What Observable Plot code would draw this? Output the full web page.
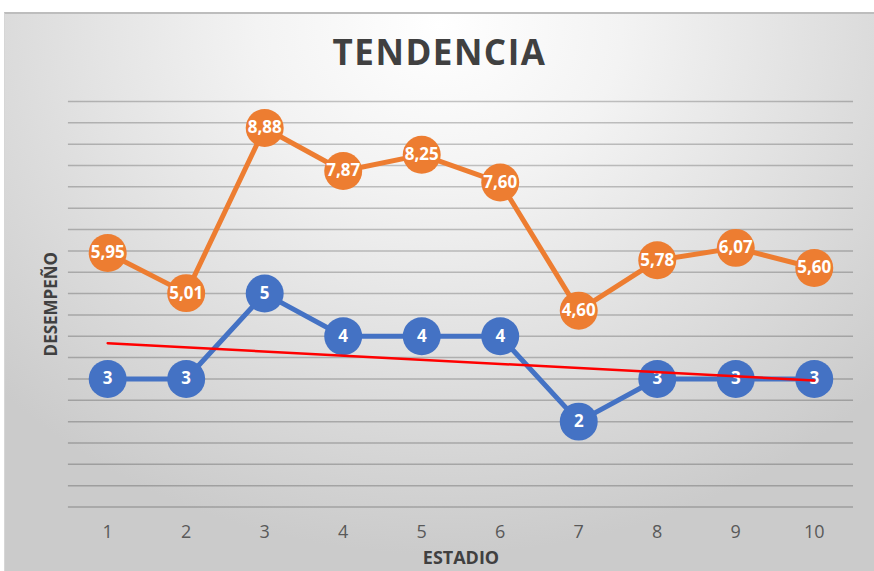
<!DOCTYPE html>
<html>
<head>
<meta charset="utf-8">
<script src="https://cdn.jsdelivr.net/npm/d3@7"></script>
<script src="https://cdn.jsdelivr.net/npm/@observablehq/plot@0.6"></script>
<style>
  html, body { margin: 0; padding: 0; background: #ffffff; }
  #chart {
    position: absolute; left: 4px; top: 12px; width: 870px; height: 559px;
    box-sizing: border-box;
    border-top: 2px solid #bdbdbd; border-left: 1px solid #d6d6d6;
    background: radial-gradient(ellipse 70% 95% at 50% 2%, #ffffff 0%, #f3f3f3 30%, #dcdcdc 70%, #cbcbcb 100%);
    font-family: "Open Sans", sans-serif;
  }
  #title {
    height: 60px; padding-top: 8px; line-height: 60px; text-align: center;
    font-size: 35px; font-weight: 700; color: #404040; letter-spacing: 1.5px;
  }
  #chart svg { display: block; background: transparent; overflow: visible; }
</style>
</head>
<body>
<div id="chart"><div id="title">TENDENCIA</div></div>
<script>
const stages = [1, 2, 3, 4, 5, 6, 7, 8, 9, 10];
const blueValues = [3, 3, 5, 4, 4, 4, 2, 3, 3, 3];
const orangeValues = [5.95, 5.01, 8.88, 7.87, 8.25, 7.60, 4.60, 5.78, 6.07, 5.60];
const xLabel = "ESTADIO";
const yLabel = "DESEMPEÑO";

const ORANGE = "#ED7D31";
const BLUE = "#4472C4";

const data = stages.map((s, i) => ({stage: s, blue: blueValues[i], orange: orangeValues[i]}));
const fmtComma = v => v.toFixed(2).replace(".", ",");

const chart = Plot.plot({
  width: 870,
  height: 489,
  marginLeft: 63,
  marginRight: 21,
  marginTop: 19,
  marginBottom: 64,
  style: {background: "transparent", fontFamily: "Open Sans, sans-serif"},
  x: {domain: [0.5, 10.5]},
  y: {domain: [0, 9.5]},
  marks: [
    Plot.gridY({interval: 0.5, stroke: "#000", strokeOpacity: 0.22, strokeWidth: 1.5}),
    Plot.axisX({ticks: stages, tickSize: 0, tickPadding: 18, fontSize: 18, fill: "#595959", label: null, tickFormat: d => String(d)}),
    Plot.axisY({ticks: [], label: null}),
    Plot.text([xLabel], {frameAnchor: "bottom", dy: 51, text: d => d, fontSize: 18, fontWeight: 700, fill: "#404040", lineAnchor: "middle", textAnchor: "middle"}),
    Plot.text([yLabel], {frameAnchor: "left", dx: -17, rotate: -90, text: d => d, fontSize: 17, fontWeight: 700, fill: "#404040", lineAnchor: "middle", textAnchor: "middle"}),
    Plot.line(data, {x: "stage", y: "orange", stroke: ORANGE, strokeWidth: 5}),
    Plot.dot(data, {x: "stage", y: "orange", r: 19, fill: ORANGE}),
    Plot.text(data, {x: "stage", y: "orange", text: d => fmtComma(d.orange), fill: "white", fontSize: 17, fontWeight: 700, letterSpacing: 1.2}),
    Plot.line(data, {x: "stage", y: "blue", stroke: BLUE, strokeWidth: 5}),
    Plot.dot(data, {x: "stage", y: "blue", r: 19, fill: BLUE}),
    Plot.text(data, {x: "stage", y: "blue", text: d => String(d.blue), fill: "white", fontSize: 17, fontWeight: 700}),
    Plot.linearRegressionY(data, {x: "stage", y: "blue", stroke: "#FF0000", strokeWidth: 2.5, ci: 0})
  ]
});
document.getElementById("chart").appendChild(chart);
</script>
</body>
</html>
